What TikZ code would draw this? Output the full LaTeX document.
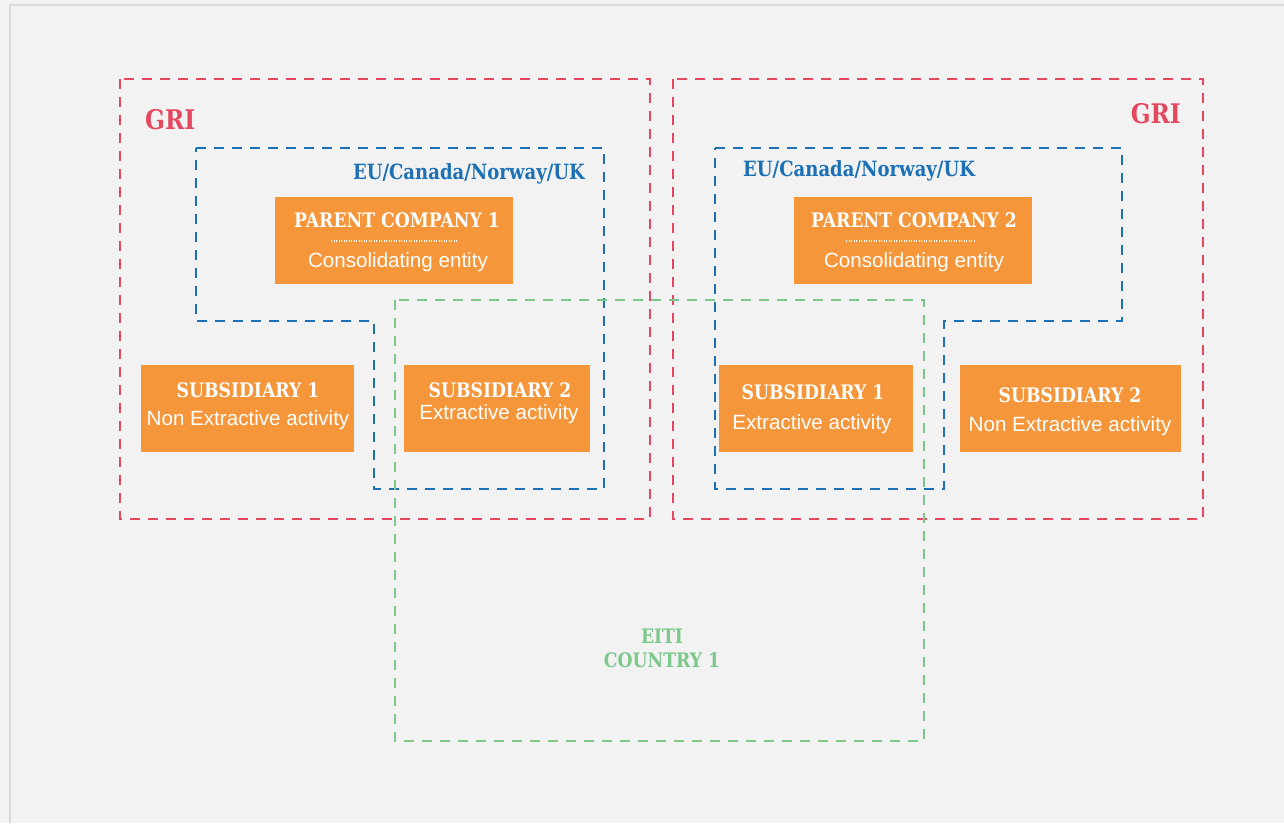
\documentclass[tikz,border=0pt]{standalone}
\usepackage{fontspec}
\setmainfont{Liberation Sans}
\newfontfamily\slab[FakeStretch=0.86]{DejaVu Serif}
\definecolor{bg}{HTML}{F2F2F2}
\definecolor{frame}{HTML}{D9D9D9}
\definecolor{grired}{HTML}{E5475F}
\definecolor{eublue}{HTML}{1C70B5}
\definecolor{eitigreen}{HTML}{7CC78A}
\definecolor{org}{HTML}{F5963B}
\tikzset{
  dsh/.style={line width=2.8pt, dash pattern=on 10pt off 8pt},
  grizone/.style={dsh, draw=grired},
  euzone/.style={dsh, draw=eublue},
  eitizone/.style={dsh, draw=eitigreen},
  obox/.style={fill=org, draw=none, inner sep=0pt, rectangle},
  ttl/.style={font=\slab\bfseries\fontsize{20}{22}\selectfont, text=white, inner sep=0pt},
  sub/.style={font=\fontsize{20.6}{22}\selectfont, text=white, inner sep=0pt},
  grilbl/.style={font=\slab\bfseries\fontsize{27}{29}\selectfont, text=grired, inner sep=0pt},
  eulbl/.style={font=\slab\bfseries\fontsize{21}{23}\selectfont, text=eublue, inner sep=0pt},
  eitilbl/.style={font=\slab\bfseries\fontsize{20}{22}\selectfont, text=eitigreen, inner sep=0pt, align=center},
}
\begin{document}
\begin{tikzpicture}[x=1pt,y=-1pt]
\useasboundingbox (0,0) rectangle (1284,823);
\fill[bg] (0,0) rectangle (1284,823);
\draw[frame, line width=1.5pt] (10,823) -- (10,5) -- (1284,5);

% GRI zones
\draw[grizone] (120,79) rectangle (650,519);
\draw[grizone] (673,79) rectangle (1203,519);
\node[grilbl, anchor=west] (gri1) at (145,120) {GRI};
\node[grilbl, anchor=east] (gri2) at (1181,114) {GRI};

% EU zones
\draw[euzone] (196,148) -- (604,148) -- (604,489) -- (374,489) -- (374,321) -- (196,321) -- cycle;
\draw[euzone] (715,148) -- (1122,148) -- (1122,321) -- (944,321) -- (944,489) -- (715,489) -- cycle;
\node[eulbl, anchor=east] (eu1) at (585,174) {EU/Canada/Norway/UK};
\node[eulbl, anchor=west] (eu2) at (743,171) {EU/Canada/Norway/UK};

% EITI zone
\draw[eitizone] (395,300) rectangle (924,741);
\node[eitilbl] (eiti) at (662,648) {EITI\\[2pt]COUNTRY 1};

% Parent companies
\node[obox, minimum width=238pt, minimum height=87pt] (p1) at (394,240.5) {};
\node[ttl] (p1t) at (397,220) {PARENT COMPANY 1};
\draw[white, line width=1.2pt, dash pattern=on 1.2pt off 1.3pt] (331,241) -- (458,241);
\node[sub] (p1s) at (398,262) {Consolidating entity};

\node[obox, minimum width=238pt, minimum height=87pt] (p2) at (913,240.5) {};
\node[ttl] (p2t) at (914,220) {PARENT COMPANY 2};
\draw[white, line width=1.2pt, dash pattern=on 1.2pt off 1.3pt] (846,241) -- (974,241);
\node[sub] (p2s) at (914,262) {Consolidating entity};

% Subsidiaries left
\node[obox, minimum width=213pt, minimum height=87pt] (s1) at (247.5,408.5) {};
\node[ttl] (s1t) at (248,390) {SUBSIDIARY 1};
\node[sub] (s1s) at (248,420) {Non Extractive activity};

\node[obox, minimum width=186pt, minimum height=87pt] (s2) at (497,408.5) {};
\node[ttl] (s2t) at (500,390) {SUBSIDIARY 2};
\node[sub] (s2s) at (499,414) {Extractive activity};

% Subsidiaries right
\node[obox, minimum width=194pt, minimum height=87pt] (s3) at (816,408.5) {};
\node[ttl] (s3t) at (813,392) {SUBSIDIARY 1};
\node[sub] (s3s) at (812,424) {Extractive activity};

\node[obox, minimum width=221pt, minimum height=87pt] (s4) at (1070.5,408.5) {};
\node[ttl] (s4t) at (1070,395) {SUBSIDIARY 2};
\node[sub] (s4s) at (1070,426) {Non Extractive activity};
\end{tikzpicture}
\end{document}
